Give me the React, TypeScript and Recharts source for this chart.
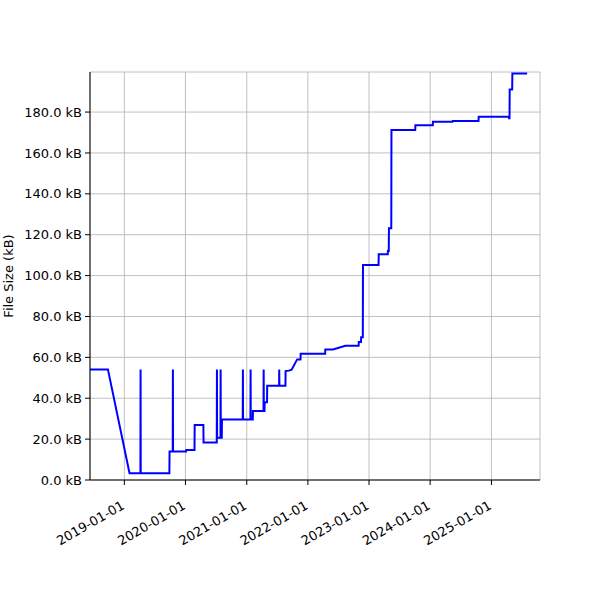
import { LineChart, Line, XAxis, YAxis, CartesianGrid } from 'recharts';

// commit dates and file size (kB) at each commit
const dates = [
  '2018-06-10', '2018-09-25', '2019-02-01', '2019-04-07', '2019-04-08', '2019-04-09',
  '2019-09-27', '2019-09-28', '2019-10-17', '2019-10-18', '2019-10-19', '2020-01-05',
  '2020-01-06', '2020-02-24', '2020-02-25', '2020-04-17', '2020-04-18', '2020-07-06',
  '2020-07-07', '2020-07-08', '2020-07-28', '2020-07-29', '2020-07-30', '2020-08-05',
  '2020-08-06', '2020-12-08', '2020-12-09', '2020-12-10', '2021-01-23', '2021-01-24',
  '2021-01-25', '2021-02-06', '2021-02-07', '2021-04-11', '2021-04-12', '2021-04-13',
  '2021-04-17', '2021-04-18', '2021-05-02', '2021-05-03', '2021-07-13', '2021-07-14',
  '2021-07-15', '2021-08-20', '2021-08-21', '2021-09-10', '2021-09-26', '2021-10-29',
  '2021-11-18', '2021-11-19', '2022-04-14', '2022-04-15', '2022-05-31', '2022-08-13',
  '2022-10-31', '2022-11-01', '2022-11-14', '2022-11-15', '2022-11-25', '2022-11-26',
  '2023-02-27', '2023-02-28', '2023-04-23', '2023-04-24', '2023-04-29', '2023-04-30',
  '2023-05-14', '2023-05-15', '2023-10-04', '2023-10-05', '2024-01-17', '2024-01-18',
  '2024-05-14', '2024-05-15', '2024-10-16', '2024-10-17', '2025-04-15', '2025-04-16',
  '2025-04-19', '2025-04-20', '2025-05-05', '2025-05-06', '2025-08-02',
];

const sizesKb = [
  54.1, 54.1, 3.3, 3.3, 54.0, 3.3,
  3.3, 13.9, 13.9, 54.0, 13.9, 13.9,
  14.7, 14.7, 26.9, 26.9, 18.4, 18.4,
  54.0, 20.7, 20.7, 54.0, 20.7, 20.7,
  29.6, 29.6, 54.0, 29.6, 29.6, 54.0,
  29.6, 29.6, 33.8, 33.8, 54.0, 33.8,
  33.8, 38.0, 38.0, 46.1, 46.1, 54.0,
  46.1, 46.1, 53.3, 53.5, 54.0, 59.0,
  59.0, 61.8, 61.8, 63.9, 63.9, 65.7,
  65.7, 67.5, 67.5, 69.8, 69.8, 105.2,
  105.2, 110.4, 110.4, 112.0, 112.0, 123.1,
  123.1, 171.2, 171.2, 173.6, 173.6, 175.3,
  175.3, 175.6, 175.6, 177.7, 177.7, 177.0,
  177.0, 191.0, 191.0, 198.9, 198.9,
];

const tickYears = [2019, 2020, 2021, 2022, 2023, 2024, 2025];
const yTicks = [0, 20, 40, 60, 80, 100, 120, 140, 160, 180];
const xRange = ['2018-06-10', '2025-10-18'];
const yMax = 199.6;

const data = dates.map((d, i) => ({ t: Date.parse(d), size: sizesKb[i] }));
const xDomain = xRange.map((d) => Date.parse(d));
const xTicks = tickYears.map((y) => Date.UTC(y, 0, 1));

const font = '"DejaVu Sans", sans-serif';

function DateTick({ x, y, payload }: any) {
  const label = new Date(payload.value).toISOString().slice(0, 10);
  return (
    <g transform={`translate(${x + 1},${y + 21})`}>
      <text transform="rotate(-30)" textAnchor="end" fontSize={13} fill="#000" fontFamily={font}>
        {label}
      </text>
    </g>
  );
}

export default function App() {
  return (
    <div style={{ position: 'absolute', left: 0, top: 0, width: 600, height: 600, background: '#fff' }}>
      <LineChart width={600} height={600} data={data} margin={{ top: 72, right: 60, bottom: 0, left: 0 }}>
        <CartesianGrid stroke="#b0b0b0" strokeWidth={0.8} />
        <XAxis
          dataKey="t"
          type="number"
          domain={xDomain}
          ticks={xTicks}
          allowDataOverflow
          height={120}
          tick={<DateTick />}
          tickSize={5}
          tickLine={{ stroke: '#000' }}
          axisLine={{ stroke: '#000' }}
          interval={0}
        />
        <XAxis
          xAxisId="top"
          orientation="top"
          type="number"
          domain={xDomain}
          height={0}
          tick={false}
          tickLine={false}
          axisLine={{ stroke: '#000' }}
        />
        <YAxis
          type="number"
          domain={[0, yMax]}
          ticks={yTicks}
          allowDataOverflow
          width={90}
          tickSize={5}
          tickMargin={3}
          interval={0}
          tickFormatter={(v: number) => `${v.toFixed(1)} kB`}
          tick={{ fontSize: 13, fill: '#000', fontFamily: font }}
          tickLine={{ stroke: '#000' }}
          axisLine={{ stroke: '#000' }}
          label={{
            content: () => (
              <text x={13} y={276} transform="rotate(-90 13 276)" textAnchor="middle" fontSize={13} fill="#000" fontFamily={font}>
                File Size (kB)
              </text>
            ),
          }}
        />
        <YAxis
          yAxisId="right"
          orientation="right"
          domain={[0, yMax]}
          width={0}
          tick={false}
          tickLine={false}
          axisLine={{ stroke: '#000' }}
        />
        <Line
          dataKey="size"
          type="linear"
          stroke="#0000ff"
          strokeWidth={2}
          dot={false}
          isAnimationActive={false}
        />
      </LineChart>
    </div>
  );
}
